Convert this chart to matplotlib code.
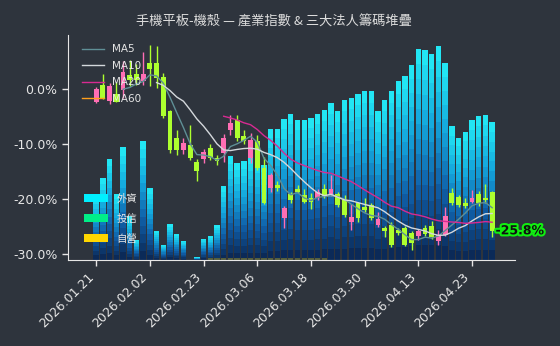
import matplotlib
matplotlib.use('Agg')
import matplotlib.pyplot as plt
import matplotlib.patheffects as pe
from matplotlib.colors import LinearSegmentedColormap
from matplotlib.patches import Patch
import numpy as np
import pandas as pd

plt.rcParams['font.family'] = ['DejaVu Sans', 'Noto Sans CJK TC']

# trading days
dates = ['2026.01.21', '2026.01.22', '2026.01.23', '2026.01.26', '2026.01.27', '2026.01.28',
         '2026.01.29', '2026.01.30', '2026.02.02', '2026.02.03', '2026.02.04', '2026.02.05',
         '2026.02.06', '2026.02.09', '2026.02.10', '2026.02.11', '2026.02.23', '2026.02.24',
         '2026.02.25', '2026.02.26', '2026.03.02', '2026.03.03', '2026.03.04', '2026.03.05',
         '2026.03.06', '2026.03.09', '2026.03.10', '2026.03.11', '2026.03.12', '2026.03.13',
         '2026.03.16', '2026.03.17', '2026.03.18', '2026.03.19', '2026.03.20', '2026.03.23',
         '2026.03.24', '2026.03.25', '2026.03.26', '2026.03.27', '2026.03.30', '2026.03.31',
         '2026.04.01', '2026.04.02', '2026.04.07', '2026.04.08', '2026.04.09', '2026.04.10',
         '2026.04.13', '2026.04.14', '2026.04.15', '2026.04.16', '2026.04.17', '2026.04.20',
         '2026.04.21', '2026.04.22', '2026.04.23', '2026.04.24', '2026.04.27', '2026.04.28']

# industry index, % change vs. base
open_ = [-2.3, 0.7, -2.2, -0.9, -0.2, 2.6, 2.7, 1.5, 4.8, 4.7,
         2.2, -4.0, -9.0, -11.1, -10.2, -13.2, -12.7, -10.7, -12.5, -11.7,
         -7.5, -5.6, -8.5, -12.5, -9.5, -14.4, -18.1, -17.5, -23.4, -19.1,
         -18.2, -19.3, -19.8, -19.9, -18.2, -19.1, -19.1, -20.2, -24.2, -20.8,
         -21.4, -21.1, -24.8, -25.3, -24.7, -25.6, -25.3, -26.2, -26.7, -25.3,
         -24.9, -27.6, -26.5, -19.0, -19.6, -20.8, -20.5, -19.1, -20.0, -18.8]
close = [0.0, -1.6, 0.6, -2.3, 3.0, 1.6, 1.7, 2.8, 3.7, 2.0,
         -5.0, -11.1, -11.1, -9.9, -12.6, -15.0, -11.5, -12.6, -13.1, -9.0,
         -6.2, -9.0, -9.5, -9.3, -14.4, -20.8, -15.6, -18.1, -21.6, -20.2,
         -18.7, -20.5, -20.5, -18.7, -19.4, -18.2, -21.1, -22.9, -23.2, -23.5,
         -22.0, -23.5, -23.6, -25.9, -28.4, -26.2, -28.4, -28.1, -25.8, -26.3,
         -27.0, -26.5, -23.1, -20.8, -21.1, -21.3, -19.9, -20.8, -20.2, -25.8]
high = [0.3, 2.7, 1.0, 1.3, 5.0, 5.3, 4.5, 6.8, 8.0, 7.8,
        2.9, -3.8, -7.5, -8.9, -6.5, -12.7, -11.0, -10.0, -12.0, -8.2,
        -4.7, -4.7, -7.5, -8.1, -8.4, -12.3, -15.2, -16.8, -21.3, -18.7,
        -17.5, -18.2, -19.0, -18.2, -17.3, -15.6, -18.7, -19.3, -21.0, -20.5,
        -19.9, -20.8, -22.3, -24.9, -24.2, -25.2, -25.0, -25.9, -25.4, -24.8,
        -24.1, -25.6, -21.5, -18.1, -19.3, -19.8, -18.3, -18.6, -17.3, -18.5]
low = [-2.6, -1.9, -2.8, -2.4, -1.7, 0.6, 0.8, 0.7, 0.5, 0.2,
       -5.3, -11.7, -12.0, -11.8, -12.9, -16.8, -13.5, -13.0, -13.8, -13.2,
       -8.4, -9.5, -10.0, -13.5, -14.8, -21.0, -18.8, -18.6, -25.2, -20.8,
       -19.0, -20.8, -21.8, -20.2, -19.9, -19.4, -21.4, -23.2, -25.6, -24.2,
       -22.3, -23.8, -25.1, -27.0, -28.8, -26.6, -28.6, -29.2, -27.5, -26.8,
       -27.2, -28.3, -26.8, -21.1, -21.5, -21.7, -20.7, -21.2, -20.8, -27.0]

# institutional holdings (thousand lots)
foreign = [13.0, 16.3, 20.2, 13.1, 22.5, 8.7, 4.0, 23.8, 14.3, 5.8,
           3.0, 7.1, 5.1, 3.8, 0.0, 0.5, 4.2, 4.7, 6.9, 14.7,
           20.7, 19.3, 19.7, 20.7, 20.4, 19.0, 26.2, 26.2, 28.3, 29.3,
           28.1, 28.0, 28.4, 29.3, 30.0, 31.5, 29.8, 32.0, 32.5, 33.3,
           33.8, 33.8, 29.8, 32.0, 33.8, 35.8, 36.8, 39.0, 42.2, 42.0,
           41.2, 42.8, 39.5, 26.8, 24.5, 25.7, 28.0, 28.8, 29.0, 27.6]
trust = [0.0] * 60
dealer = [0.0] * 17 + [0.3] * 18 + [0.0] * 25

inst_names = ['外資', '投信', '自營']
inst_colors = ['#00f0ff', '#00ee88', '#ffd700']
ma_windows = [5, 10, 20, 60]
ma_colors = ['#5f8f96', '#d4d8dc', '#d82a92', '#ff9f1c']

BG = '#2e343d'
FG = '#e6e6e6'

x = np.arange(len(dates))
o = np.array(open_)
c = np.array(close)
h = np.array(high)
l = np.array(low)

fig = plt.figure(figsize=(5.6, 3.46), dpi=100, facecolor=BG)
ax = fig.add_axes([0.1214, 0.2486, 0.7982, 0.6502])
axb = ax.twinx()
ax.set_zorder(2)
axb.set_zorder(1)
ax.patch.set_visible(False)
axb.set_facecolor(BG)

# chip bars, drawn in slices so each bar fades from navy to cyan
cmap = LinearSegmentedColormap.from_list('chip', ['#0b2a58', '#0f5ea8', '#14a6dc', '#22e6f4'])
fh = np.array(foreign)
n_seg = 14
for k in range(n_seg):
    axb.bar(x, fh / n_seg, bottom=fh * k / n_seg, width=0.8,
            color=cmap(k / (n_seg - 1)), linewidth=0, antialiased=False)
axb.bar(x, trust, width=0.8, color=inst_colors[1], linewidth=0)
axb.bar(x, dealer, width=0.8, color=inst_colors[2], alpha=0.3, linewidth=0)
axb.set_ylim(0, 45)
axb.set_yticks([])
for sp in axb.spines.values():
    sp.set_visible(False)

# candlesticks
up = c >= o
cols = np.where(up, '#ff6eb4', '#adff2f')
ax.vlines(x, l, h, colors=cols, linewidth=1)
body_lo = np.minimum(o, c)
body_h = np.maximum(np.abs(c - o), 0.3)
ax.bar(x, body_h, bottom=body_lo, width=0.72, color=cols, linewidth=0)

# moving averages
s = pd.Series(c)
for w, col in zip(ma_windows, ma_colors):
    ax.plot(x, s.rolling(w).mean(), color=col, lw=1, label=f'MA{w}')

ax.text(x[-1] + 0.5, c[-1], f'{c[-1]:.1f}%', va='center', ha='left',
        fontsize=9, fontweight='bold', color='#101010',
        path_effects=[pe.withStroke(linewidth=3, foreground='#11ee11')])

ax.set_xlim(-4.2, 62.4)
ax.set_ylim(-31.1, 9.8)
ax.set_yticks([0, -10, -20, -30])
ax.set_yticklabels([f'{v:.1f}%' for v in [0, -10, -20, -30]])
ax.set_xticks(x[::8])
ax.set_xticklabels(dates[::8], rotation=45, ha='right')
ax.tick_params(colors=FG, labelsize=9, length=4, width=1)
for side in ['top', 'right']:
    ax.spines[side].set_visible(False)
for side in ['left', 'bottom']:
    ax.spines[side].set_color(FG)

leg1 = ax.legend(loc='upper left', bbox_to_anchor=(0.01, 1.0), frameon=False,
                 fontsize=7.5, labelcolor=FG, handlelength=2.1, handletextpad=0.8,
                 labelspacing=0.62)
ax.add_artist(leg1)
handles = [Patch(facecolor=col, edgecolor='none', label=name)
           for name, col in zip(inst_names, inst_colors)]
ax.legend(handles=handles, loc='lower left', bbox_to_anchor=(0.015, 0.03), frameon=False,
          fontsize=7.5, labelcolor=FG, handlelength=2.3, handleheight=0.8,
          handletextpad=0.8, labelspacing=0.95)

fig.text(0.49, 0.936, '手機平板-機殼 — 產業指數 & 三大法人籌碼堆疊', ha='center', va='center',
         fontsize=9.5, color='#dcdcdc', family=['Noto Sans CJK TC', 'DejaVu Sans'])

fig.savefig('out.png', dpi=100, facecolor=BG)
